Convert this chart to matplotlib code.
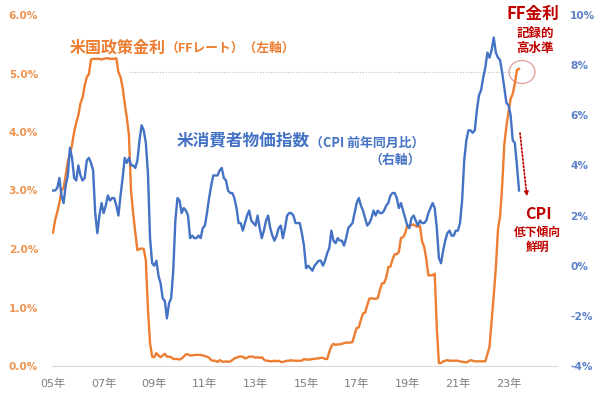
import matplotlib.pyplot as plt
from matplotlib.patches import Ellipse

# FF rate (effective, monthly %), Jan 2005 - Jun 2023
ff_rate = [
    2.28, 2.50, 2.63, 2.79, 3.00, 3.04, 3.26, 3.50, 3.62, 3.78, 4.00, 4.16,  # 2005
    4.29, 4.49, 4.59, 4.79, 4.94, 4.99, 5.24, 5.25, 5.25, 5.25, 5.25, 5.24,  # 2006
    5.25, 5.26, 5.26, 5.25, 5.25, 5.25, 5.26, 5.02, 4.94, 4.76, 4.49, 4.24,  # 2007
    3.94, 2.98, 2.61, 2.28, 1.98, 2.00, 2.01, 2.00, 1.81, 0.97, 0.39, 0.16,  # 2008
    0.15, 0.22, 0.18, 0.15, 0.18, 0.21, 0.16, 0.16, 0.15, 0.12, 0.12, 0.12,  # 2009
    0.11, 0.13, 0.16, 0.20, 0.20, 0.18, 0.18, 0.19, 0.19, 0.19, 0.19, 0.18,  # 2010
    0.17, 0.16, 0.14, 0.10, 0.09, 0.09, 0.07, 0.10, 0.08, 0.07, 0.08, 0.07,  # 2011
    0.08, 0.10, 0.13, 0.14, 0.16, 0.16, 0.16, 0.13, 0.14, 0.16, 0.16, 0.16,  # 2012
    0.14, 0.15, 0.14, 0.15, 0.11, 0.09, 0.09, 0.08, 0.08, 0.09, 0.08, 0.09,  # 2013
    0.07, 0.07, 0.08, 0.09, 0.09, 0.10, 0.09, 0.09, 0.09, 0.09, 0.09, 0.12,  # 2014
    0.11, 0.11, 0.11, 0.12, 0.12, 0.13, 0.13, 0.14, 0.14, 0.12, 0.12, 0.24,  # 2015
    0.34, 0.38, 0.36, 0.37, 0.37, 0.38, 0.39, 0.40, 0.40, 0.40, 0.41, 0.54,  # 2016
    0.65, 0.66, 0.79, 0.90, 0.91, 1.04, 1.15, 1.16, 1.15, 1.15, 1.16, 1.30,  # 2017
    1.41, 1.42, 1.51, 1.69, 1.70, 1.82, 1.91, 1.91, 1.95, 2.19, 2.20, 2.27,  # 2018
    2.40, 2.40, 2.41, 2.42, 2.39, 2.38, 2.40, 2.13, 2.04, 1.83, 1.55, 1.55,  # 2019
    1.55, 1.58, 0.65, 0.05, 0.05, 0.08, 0.09, 0.10, 0.09, 0.09, 0.09, 0.09,  # 2020
    0.09, 0.08, 0.07, 0.07, 0.06, 0.08, 0.10, 0.09, 0.08, 0.08, 0.08, 0.08,  # 2021
    0.08, 0.08, 0.20, 0.33, 0.77, 1.21, 1.68, 2.33, 2.56, 3.08, 3.78, 4.10,  # 2022
    4.33, 4.57, 4.65, 4.83, 5.06, 5.08,                                      # 2023
]

# US CPI, year-over-year %, Jan 2005 - Jun 2023
cpi_yoy = [
    3.0, 3.0, 3.1, 3.5, 2.8, 2.5, 3.2, 3.6, 4.7, 4.3, 3.5, 3.4,  # 2005
    4.0, 3.6, 3.4, 3.5, 4.2, 4.3, 4.1, 3.8, 2.1, 1.3, 2.0, 2.5,  # 2006
    2.1, 2.4, 2.8, 2.6, 2.7, 2.7, 2.4, 2.0, 2.8, 3.5, 4.3, 4.1,  # 2007
    4.3, 4.0, 4.0, 3.9, 4.2, 5.0, 5.6, 5.4, 4.9, 3.7, 1.1, 0.1,  # 2008
    0.0, 0.2, -0.4, -0.7, -1.3, -1.4, -2.1, -1.5, -1.3, -0.2, 1.8, 2.7,  # 2009
    2.6, 2.1, 2.3, 2.2, 2.0, 1.1, 1.2, 1.1, 1.1, 1.2, 1.1, 1.5,  # 2010
    1.6, 2.1, 2.7, 3.2, 3.6, 3.6, 3.6, 3.8, 3.9, 3.5, 3.4, 3.0,  # 2011
    2.9, 2.9, 2.7, 2.3, 1.7, 1.7, 1.4, 1.7, 2.0, 2.2, 1.8, 1.7,  # 2012
    1.6, 2.0, 1.5, 1.1, 1.4, 1.8, 2.0, 1.5, 1.2, 1.0, 1.2, 1.5,  # 2013
    1.6, 1.1, 1.5, 2.0, 2.1, 2.1, 2.0, 1.7, 1.7, 1.7, 1.3, 0.8,  # 2014
    -0.1, 0.0, -0.1, -0.2, 0.0, 0.1, 0.2, 0.2, 0.0, 0.2, 0.5, 0.7,  # 2015
    1.4, 1.0, 0.9, 1.1, 1.0, 1.0, 0.8, 1.1, 1.5, 1.6, 1.7, 2.1,  # 2016
    2.5, 2.7, 2.4, 2.2, 1.9, 1.6, 1.7, 1.9, 2.2, 2.0, 2.2, 2.1,  # 2017
    2.1, 2.2, 2.4, 2.5, 2.8, 2.9, 2.9, 2.7, 2.3, 2.5, 2.2, 1.9,  # 2018
    1.6, 1.5, 1.9, 2.0, 1.8, 1.6, 1.8, 1.7, 1.7, 1.8, 2.1, 2.3,  # 2019
    2.5, 2.3, 1.5, 0.3, 0.1, 0.6, 1.0, 1.3, 1.4, 1.2, 1.2, 1.4,  # 2020
    1.4, 1.7, 2.6, 4.2, 5.0, 5.4, 5.4, 5.3, 5.4, 6.2, 6.8, 7.0,  # 2021
    7.5, 7.9, 8.5, 8.3, 8.6, 9.1, 8.5, 8.3, 8.2, 7.7, 7.1, 6.5,  # 2022
    6.4, 6.0, 5.0, 4.9, 4.0, 3.0,                                # 2023
]

year_labels = ["05年", "07年", "09年", "11年", "13年", "15年", "17年", "19年", "21年", "23年"]
left_ticks = [0, 1, 2, 3, 4, 5, 6]
right_ticks = [-4, -2, 0, 2, 4, 6, 8, 10]
ref_level = 5.03  # dotted guide at the current FF level

ORANGE = "#ED7D31"
BLUE = "#4472C4"
RED = "#C00000"
CJK = ["Noto Sans CJK JP", "DejaVu Sans"]
NUM = ["DejaVu Sans", "Noto Sans CJK JP"]

W, H = 600, 393


def fx(px):
    return px / W


def fy(py):
    return 1 - py / H


months = list(range(len(ff_rate)))

fig = plt.figure(figsize=(6, 3.93), dpi=100)
ax = fig.add_axes([fx(52), fy(366), fx(557) - fx(52), fy(15) - fy(366)])
ax2 = ax.twinx()

ax.plot(months, ff_rate, color=ORANGE, lw=1.7, solid_joinstyle="round")
ax2.plot(months, cpi_yoy, color=BLUE, lw=1.7, solid_joinstyle="round")

ax.hlines(ref_level, 36, 218, colors="#BFBFBF", linestyles=(0, (1, 1.5)), lw=0.8)

ax.set_xlim(-0.5, 239)
ax.set_ylim(0, 6)
ax2.set_ylim(-4, 10)

ax.set_xticks(range(0, 24 * len(year_labels), 24))
ax.set_xticklabels(year_labels, family=NUM, fontsize=8, color="#7F7F7F")
ax.set_yticks(left_ticks)
ax.set_yticklabels([f"{v:.1f}%" for v in left_ticks], fontsize=7.6,
                   fontweight="bold", color="#EE9350")
ax2.set_yticks(right_ticks)
ax2.set_yticklabels([f"{v}%" for v in right_ticks], fontsize=7.6,
                    fontweight="bold", color="#5B80C8")

ax.tick_params(axis="x", length=0, pad=9)
ax.tick_params(axis="y", length=0, pad=10)
ax2.tick_params(axis="y", length=0, pad=9.5)

for a in (ax, ax2):
    for s in a.spines.values():
        s.set_visible(False)
ax.spines["bottom"].set_visible(True)
ax.spines["bottom"].set_color("#D9D9D9")
ax.spines["bottom"].set_linewidth(0.8)

# series labels
t1 = fig.text(fx(70), fy(47), "米国政策金利", family=CJK, fontsize=11.5,
              fontweight="bold", color=ORANGE, va="center", ha="left")
ax.annotate("（FFレート）（左軸）", xy=(1, 0), xycoords=t1, family=CJK,
            fontsize=9.2, fontweight="bold", color=ORANGE, va="bottom", ha="left")

t2 = fig.text(fx(177), fy(141), "米消費者物価指数", family=CJK, fontsize=12,
              fontweight="bold", color=BLUE, va="center", ha="left")
ax.annotate("（CPI 前年同月比）", xy=(1, 0), xycoords=t2, family=CJK,
            fontsize=9.3, fontweight="bold", color=BLUE, va="bottom", ha="left")
fig.text(fx(421), fy(160), "（右軸）", family=CJK, fontsize=9.3,
         fontweight="bold", color=BLUE, va="center", ha="right")

# callouts
fig.text(fx(533), fy(14), "FF金利", family=CJK, fontsize=12, fontweight="bold",
         color=RED, ha="center", va="center")
fig.text(fx(535), fy(33), "記録的", family=CJK, fontsize=9, fontweight="bold",
         color=RED, ha="center", va="center")
fig.text(fx(535), fy(48), "高水準", family=CJK, fontsize=9, fontweight="bold",
         color=RED, ha="center", va="center")

fig.text(fx(538), fy(214), "CPI", family=CJK, fontsize=11.5, fontweight="bold",
         color=RED, ha="center", va="center")
fig.text(fx(537), fy(232), "低下傾向", family=CJK, fontsize=8.5, fontweight="bold",
         color=RED, ha="center", va="center")
fig.text(fx(537), fy(247), "鮮明", family=CJK, fontsize=8.5, fontweight="bold",
         color=RED, ha="center", va="center")

ax.add_patch(Ellipse(((522 - 52) / 505, (366 - 72) / 351), 26 / 505, 23 / 351,
                     transform=ax.transAxes, fill=False, ec="#E39A9A", lw=0.9))

# dotted arrow toward lower CPI
ax.annotate("", xy=(526, H - 188), xytext=(520, H - 133), xycoords="figure pixels",
            arrowprops=dict(arrowstyle="-", ls=(0, (1, 1.2)), color=RED, lw=1.2,
                            shrinkA=0, shrinkB=0))
ax.annotate("", xy=(527, H - 196), xytext=(526, H - 188), xycoords="figure pixels",
            arrowprops=dict(arrowstyle="-|>", color=RED, lw=0.8, mutation_scale=7,
                            shrinkA=0, shrinkB=0))

fig.savefig("out.png", dpi=100)
